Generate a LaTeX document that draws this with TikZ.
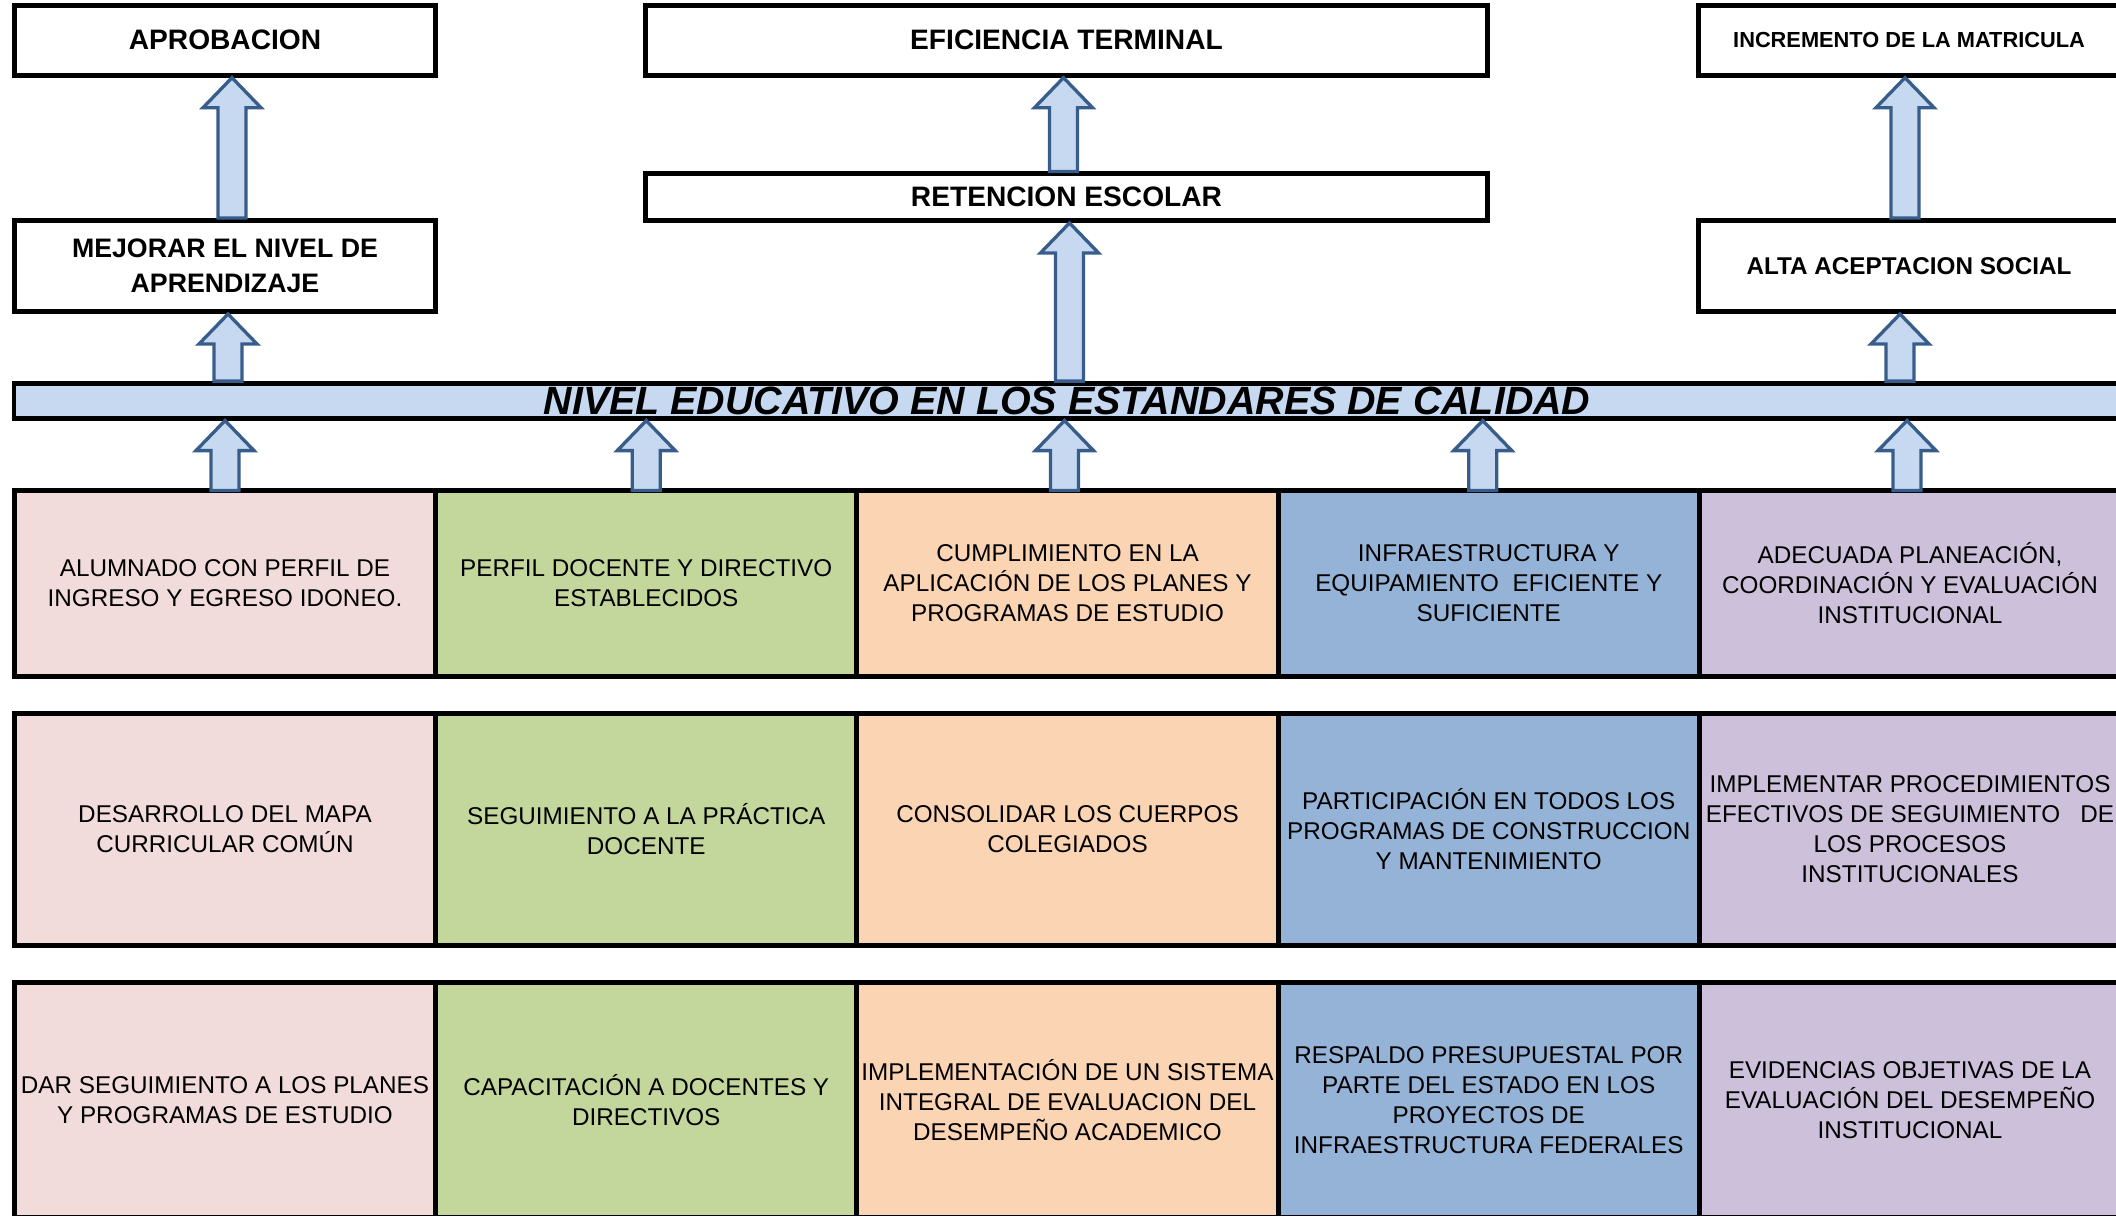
\documentclass[tikz,border=0pt]{standalone}
\usepackage{fontspec}
\setmainfont{Liberation Sans}
\usetikzlibrary{positioning,calc}

\definecolor{rosa}{HTML}{F2DCDB}
\definecolor{verde}{HTML}{C3D69B}
\definecolor{durazno}{HTML}{FBD4B4}
\definecolor{azul}{HTML}{95B3D7}
\definecolor{lila}{HTML}{CCC0DA}
\definecolor{celeste}{HTML}{C6D9F1}
\definecolor{marino}{HTML}{385D8A}

\newcommand\subir[3][0]{%
  \draw[flecha] let \p1=($(#2)+(#1,0)$), \p2=(#3) in
    (\x1-0.14cm,\y1) -- (\x1-0.14cm,\y2-0.3cm) -- (\x1-0.29cm,\y2-0.3cm) -- (\x1,\y2)
    -- (\x1+0.29cm,\y2-0.3cm) -- (\x1+0.14cm,\y2-0.3cm) -- (\x1+0.14cm,\y1) -- cycle;}

\begin{document}
\begin{tikzpicture}[x=0.01cm,y=-0.01cm,
    caja/.style={draw, line width=1.35pt, inner sep=0pt, align=center, minimum width=4.21cm,
        font=\bfseries\fontsize{8}{10}\selectfont},
    celda/.style={draw, line width=1.4pt, outer sep=0pt, inner sep=0pt, align=center,
        minimum width=4.21cm, font=\fontsize{6.9}{8.5}\selectfont},
    fila1/.style={celda, minimum height=1.857cm},
    fila2/.style={celda, minimum height=2.32cm},
    fila3/.style={celda, minimum height=2.35cm},
    flecha/.style={draw=marino, fill=celeste, line width=0.95pt, line join=miter}]
    \useasboundingbox (0,0) rectangle (2116,1215);

    \node[caja, minimum height=0.7cm] (aprob) at (225,40.3) {APROBACION};
    \node[caja, minimum height=0.7cm, minimum width=8.42cm] (efic) at (1066.5,40.3) {EFICIENCIA TERMINAL};
    \node[caja, minimum height=0.7cm, font=\bfseries\fontsize{6.2}{8}\selectfont] (incr) at (1909,40.3) {INCREMENTO DE LA MATRICULA};
    \node[caja, minimum height=0.467cm, minimum width=8.42cm] (reten) at (1066.5,197.2) {RETENCION ESCOLAR};
    \node[caja, minimum height=0.912cm, font=\bfseries\fontsize{7.6}{10}\selectfont] (mejora) at (225,266) {MEJORAR EL NIVEL DE\\APRENDIZAJE};
    \node[caja, minimum height=0.912cm, font=\bfseries\fontsize{6.9}{9}\selectfont] (alta) at (1909,266) {ALTA ACEPTACION SOCIAL};

    \node[caja, fill=celeste, minimum width=21.05cm, minimum height=0.347cm,
        font=\bfseries\itshape\fontsize{11.2}{12}\selectfont] (nivel) at (1067,400.85)
        {NIVEL EDUCATIVO EN LOS ESTANDARES DE CALIDAD};

    \node[fila1, fill=rosa] (a1) at (225,583.35) {ALUMNADO CON PERFIL DE\\INGRESO Y EGRESO IDONEO.};
    \node[fila1, fill=verde, right=0pt of a1] (a2) {PERFIL DOCENTE Y DIRECTIVO\\ESTABLECIDOS};
    \node[fila1, fill=durazno, right=0pt of a2] (a3) {CUMPLIMIENTO EN LA\\APLICACIÓN DE LOS PLANES Y\\PROGRAMAS DE ESTUDIO};
    \node[fila1, fill=azul, right=0pt of a3] (a4) {INFRAESTRUCTURA Y\\EQUIPAMIENTO\ \ EFICIENTE Y\\SUFICIENTE};
    \node[fila1, fill=lila, right=0pt of a4] (a5) {ADECUADA PLANEACIÓN,\\COORDINACIÓN Y EVALUACIÓN\\INSTITUCIONAL};

    \node[fila2, fill=rosa] (b1) at (225,829.2) {DESARROLLO DEL MAPA\\CURRICULAR COMÚN};
    \node[fila2, fill=verde, right=0pt of b1] (b2) {SEGUIMIENTO A LA PRÁCTICA\\DOCENTE};
    \node[fila2, fill=durazno, right=0pt of b2] (b3) {CONSOLIDAR LOS CUERPOS\\COLEGIADOS};
    \node[fila2, fill=azul, right=0pt of b3] (b4) {PARTICIPACIÓN EN TODOS LOS\\PROGRAMAS DE CONSTRUCCION\\Y MANTENIMIENTO};
    \node[fila2, fill=lila, right=0pt of b4] (b5) {IMPLEMENTAR PROCEDIMIENTOS\\EFECTIVOS DE SEGUIMIENTO\ \ \ DE\\LOS PROCESOS\\INSTITUCIONALES};

    \node[fila3, fill=rosa] (c1) at (225,1100) {DAR SEGUIMIENTO A LOS PLANES\\Y PROGRAMAS DE ESTUDIO};
    \node[fila3, fill=verde, right=0pt of c1] (c2) {CAPACITACIÓN A DOCENTES Y\\DIRECTIVOS};
    \node[fila3, fill=durazno, right=0pt of c2] (c3) {IMPLEMENTACIÓN DE UN SISTEMA\\INTEGRAL DE EVALUACION DEL\\DESEMPEÑO ACADEMICO};
    \node[fila3, fill=azul, right=0pt of c3] (c4) {RESPALDO PRESUPUESTAL POR\\PARTE DEL ESTADO EN LOS\\PROYECTOS DE\\INFRAESTRUCTURA FEDERALES};
    \node[fila3, fill=lila, right=0pt of c4] (c5) {EVIDENCIAS OBJETIVAS DE LA\\EVALUACIÓN DEL DESEMPEÑO\\INSTITUCIONAL};

    \subir[7]{mejora.north}{aprob.south}
    \subir[-3]{reten.north}{efic.south}
    \subir[-4]{alta.north}{incr.south}
    \subir[3]{nivel.north -| mejora}{mejora.south}
    \subir[3]{nivel.north -| reten}{reten.south}
    \subir[-9]{nivel.north -| alta}{alta.south}
    \subir{a1.north}{nivel.south}
    \subir{a2.north}{nivel.south}
    \subir[-3]{a3.north}{nivel.south}
    \subir[-6]{a4.north}{nivel.south}
    \subir[-3]{a5.north}{nivel.south}
\end{tikzpicture}
\end{document}
